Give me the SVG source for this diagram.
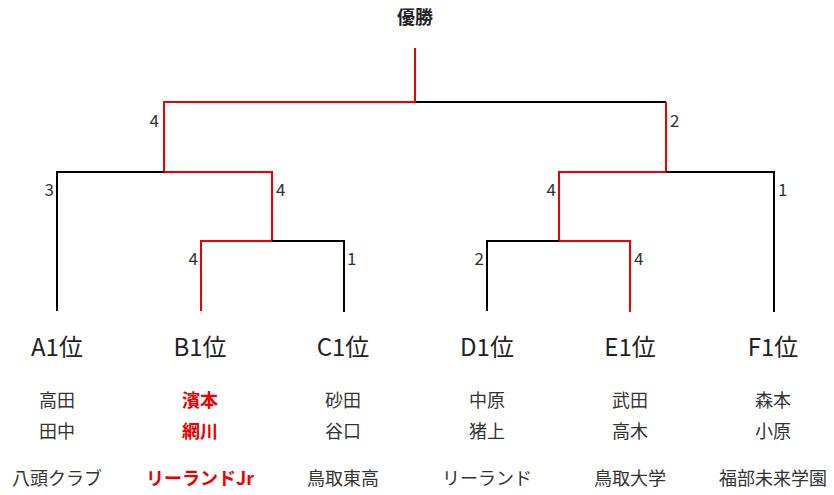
<svg xmlns="http://www.w3.org/2000/svg" width="834" height="495" viewBox="0 0 834 495">
<style>
text{font-family:"Noto Sans CJK JP","Noto Sans",sans-serif;fill:#333;}
.w{stroke:#e00;stroke-width:2;fill:none;}
.b{stroke:#000;stroke-width:2;fill:none;}
.sc{font-size:17px;}
.pos{font-size:24px;text-anchor:middle;fill:#222;}
.nm{font-size:18px;text-anchor:middle;}
.win{fill:#e00;font-weight:bold;}
.t{font-size:18px;text-anchor:middle;font-weight:bold;fill:#222;}
</style>
<rect width="834" height="495" fill="#fff"/>
<g id="connectors">
<path class="b" d="M415 102H666"/>
<path class="w" d="M415 48V102H164V172H272V241H201V311"/>
<path class="w" d="M666 102V172H559V241H630V312"/>
<path class="b" d="M164 172H57V311"/>
<path class="b" d="M272 241H344V312"/>
<path class="b" d="M666 172H774V312"/>
<path class="b" d="M559 241H487V311"/>
</g>
<g id="scores">
<text class="sc" x="159" y="127" text-anchor="end">4</text>
<text class="sc" x="670" y="127">2</text>
<text class="sc" x="54" y="196" text-anchor="end">3</text>
<text class="sc" x="276" y="196">4</text>
<text class="sc" x="556" y="196" text-anchor="end">4</text>
<text class="sc" x="778" y="196">1</text>
<text class="sc" x="198" y="265" text-anchor="end">4</text>
<text class="sc" x="347" y="265">1</text>
<text class="sc" x="484" y="265" text-anchor="end">2</text>
<text class="sc" x="634" y="265">4</text>
</g>
<g id="champion"><text class="t" x="415" y="24">優勝</text></g>
<g id="A"><text class="pos" x="57" y="356">A1位</text><text class="nm" x="57" y="407">高田</text><text class="nm" x="57" y="438">田中</text><text class="nm" x="57" y="485">八頭クラブ</text></g>
<g id="B"><text class="pos" x="200" y="356">B1位</text><text class="nm win" x="200" y="407">濱本</text><text class="nm win" x="200" y="438">網川</text><text class="nm win" x="200" y="485">リーランドJr</text></g>
<g id="C"><text class="pos" x="343" y="356">C1位</text><text class="nm" x="343" y="407">砂田</text><text class="nm" x="343" y="438">谷口</text><text class="nm" x="343" y="485">鳥取東高</text></g>
<g id="D"><text class="pos" x="487" y="356">D1位</text><text class="nm" x="487" y="407">中原</text><text class="nm" x="487" y="438">猪上</text><text class="nm" x="487" y="485">リーランド</text></g>
<g id="E"><text class="pos" x="630" y="356">E1位</text><text class="nm" x="630" y="407">武田</text><text class="nm" x="630" y="438">高木</text><text class="nm" x="630" y="485">鳥取大学</text></g>
<g id="F"><text class="pos" x="773" y="356">F1位</text><text class="nm" x="773" y="407">森本</text><text class="nm" x="773" y="438">小原</text><text class="nm" x="773" y="485">福部未来学園</text></g>
</svg>
